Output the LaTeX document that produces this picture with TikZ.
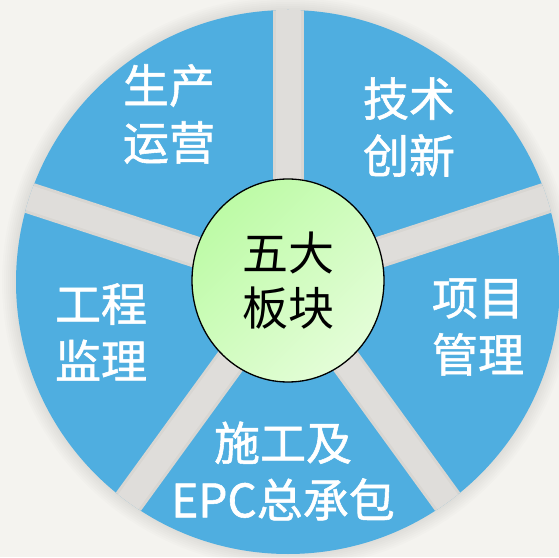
\documentclass[tikz,border=0pt]{standalone}
\usepackage{fontspec}
\newfontfamily\cjk{Noto Sans CJK SC}
\newfontfamily\cjkheavy[FakeBold=1.2]{Noto Sans CJK SC}
\usepackage{tikz}
\usetikzlibrary{shapes.geometric}
\definecolor{pagebg}{HTML}{F4F3EF}
\definecolor{pieblue}{HTML}{4FAEE0}
\definecolor{gapdark}{HTML}{D8D6D2}
\definecolor{gaplight}{HTML}{DFDDDA}
\definecolor{hubgreenA}{HTML}{BDFBA6}
\definecolor{hubgreenB}{HTML}{E4FDD8}
\tikzset{
  sector label/.style={text=white, align=center,
    font=\cjkheavy\fontsize{46pt}{57pt}\selectfont},
  gap line/.style={draw=gapdark, line width=31pt},
  gap core/.style={draw=gaplight, line width=25pt},
  hub/.style={ellipse, draw=black, line width=1.3pt,
    minimum width=192pt, minimum height=203pt, inner sep=0pt,
    top color=hubgreenA, bottom color=hubgreenB, shading angle=45,
    align=center, font=\cjk\fontsize{46pt}{55pt}\selectfont},
  }

\begin{document}
\begin{tikzpicture}[x=1pt,y=1pt]
            \useasboundingbox (0,0) rectangle (559,557);
            \fill[pagebg] (0,0) rectangle (559,557);
            \coordinate (c) at (288,275);

            % Shadow
            \foreach \r in {2,4,...,14}
                \fill[black,opacity=0.012] (c) circle (272+\r);

            % Pie
            \fill[pieblue] (c) circle (272);

            % Gaps
            \begin{scope}
                \clip (c) circle (272);
                \foreach \a in {90,18,-54,-126,162} {
                    \draw[gap line] (c) -- ++(\a:300);
                    \draw[gap core] (c) -- ++(\a:300);
                }
            \end{scope}

            % Labels
            \node[sector label] (prod) at (169,443) {生产\\运营};
            \node[sector label] (tech) at (409,430) {技术\\创新};
            \node[sector label] (proj) at (478,230) {项目\\管理};
            \node[sector label] (cons) at (283,86) {施工及\\EPC总承包};
            \node[sector label] (supv) at (101,225) {工程\\监理};

            % Centre
            \node[hub] (core) at (288,276.5) {五大\\板块};
        \end{tikzpicture}
\end{document}
